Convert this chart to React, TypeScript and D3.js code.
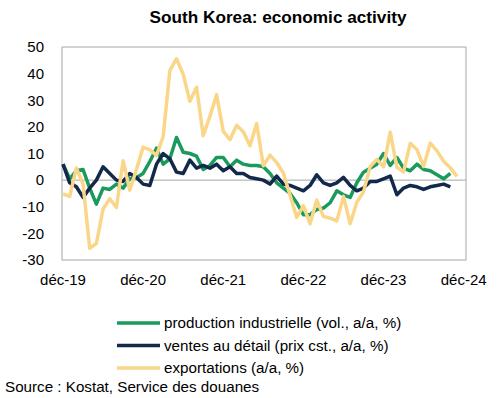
import React from 'react';
import { scaleLinear, line } from 'd3';

// monthly, déc-19 onwards
const production = [
  6.0, 0.5, 3.5, 4.0, -3.0, -9.0, -3.0, -3.5, -1.5, -3.0, 0.5, 1.0,
  2.5, 7.0, 12.0, 6.0, 8.0, 16.0, 10.5, 10.0, 9.0, 4.0, 5.5, 8.5,
  8.5, 5.0, 7.5, 6.0, 5.5, 5.5, 5.0, 2.5, -1.0, -3.0, -5.0, -8.5,
  -13.0, -13.0, -11.0, -10.5, -8.5, -4.0, -5.5, -6.5, -1.0, 3.0, 4.5, 6.0,
  10.0, 5.5, 8.5, 4.5, 3.5, 6.0, 4.0, 3.5, 2.0, 0.5, 2.5,
];
const retail = [
  6.0, -1.0, -2.5, -6.5, -3.0, 0.0, 5.0, 2.5, 0.0, -0.5, 2.5, 1.0,
  -1.5, -2.0, 6.0, 10.0, 8.0, 3.0, 2.5, 7.5, 4.5, 5.5, 4.5, 6.0,
  3.5, 5.0, 2.5, 2.5, 1.0, 0.5, 0.0, -1.5, 1.5, -1.5, -2.0, -3.0,
  -4.0, -2.0, 2.0, -1.0, -2.0, -1.0, 1.0, -2.0, -4.0, -3.0, -0.5, -0.5,
  0.5, 1.5, -5.5, -3.0, -2.0, -2.5, -3.5, -2.5, -2.0, -1.5, -2.5,
];
const exportsYoY = [
  -5.2, -6.1, 4.5, -1.4, -25.6, -23.8, -10.9, -7.0, -10.3, 7.3, -3.8, 4.0,
  12.4, 11.4, 9.3, 16.4, 41.1, 45.6, 39.7, 29.6, 34.9, 16.7, 24.0, 32.1,
  18.3, 15.2, 20.6, 18.2, 12.9, 21.3, 5.4, 9.4, 6.6, 2.7, -5.7, -14.0,
  -9.6, -16.4, -7.5, -13.6, -14.3, -15.3, -6.1, -16.4, -8.3, -4.4, 5.1, 7.8,
  5.0, 18.0, 4.8, 3.1, 13.8, 11.5, 5.1, 13.9, 11.0, 7.1, 4.6, 1.4,
];
const xTickLabels = ['déc-19', 'déc-20', 'déc-21', 'déc-22', 'déc-23', 'déc-24'];
const yTicks = [50, 40, 30, 20, 10, 0, -10, -20, -30];

const series = [
  { name: 'production industrielle (vol., a/a, %)', values: production, color: '#1b9a5e' },
  { name: 'ventes au détail (prix cst., a/a, %)', values: retail, color: '#13294b' },
  { name: 'exportations (a/a, %)', values: exportsYoY, color: '#fad689' },
];

const font = 'Arial, "Liberation Sans", sans-serif';

export default function App() {
  const left = 62, right = 466, top = 47, bottom = 260;

  const x = scaleLinear().domain([0, 59]).range([63, 457]);
  const y = scaleLinear().domain([-30, 50]).range([bottom, top]);

  const path = line<number>()
    .x((d, i) => x(i))
    .y(d => y(d));

  return (
    <svg width={500} height={398} style={{ position: 'absolute', left: 0, top: 0 }}
      fontFamily={font}>
      <rect width={500} height={398} fill="#fff" />
      <text x={278} y={23} textAnchor="middle" fontSize={17.2} fontWeight="bold" fill="#000">
        South Korea: economic activity
      </text>

      <rect x={left} y={top} width={right - left} height={bottom - top}
        fill="none" stroke="#a6a6a6" strokeWidth={1} />
      <line x1={left} x2={right} y1={y(0)} y2={y(0)} stroke="#a6a6a6" strokeWidth={1} />

      {yTicks.map(t => (
        <text key={t} x={44} y={y(t)} dy="0.35em" textAnchor="end" fontSize={15} fill="#000">
          {t}
        </text>
      ))}
      {xTickLabels.map((l, i) => (
        <text key={l} x={x(i * 12)} y={285} textAnchor="middle" fontSize={15} fill="#000">
          {l}
        </text>
      ))}

      {series.map(s => (
        <path key={s.name} d={path(s.values) || ''} fill="none" stroke={s.color}
          strokeWidth={3.5} strokeLinejoin="round" />
      ))}

      {series.map((s, i) => (
        <g key={s.name} transform={`translate(0,${323 + i * 22.5})`}>
          <line x1={117} x2={160} stroke={s.color} strokeWidth={3.5} />
          <text x={164} dy="0.35em" fontSize={15.2} fill="#000">{s.name}</text>
        </g>
      ))}

      <text x={5} y={392} fontSize={15.2} fill="#000">Source : Kostat, Service des douanes</text>
    </svg>
  );
}
